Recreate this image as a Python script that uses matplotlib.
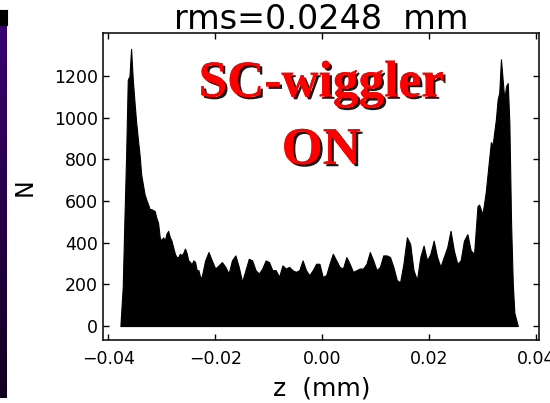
import numpy as np
import matplotlib
matplotlib.use('Agg')
import matplotlib.pyplot as plt
import matplotlib.patheffects as pe

# %%
# Longitudinal bunch profile (z in mm, N counts)
z = [-0.03774, -0.03730, -0.03698, -0.03668, -0.03636, -0.03604, -0.03574,
     -0.03542, -0.03509, -0.03479, -0.03447, -0.03415, -0.03385, -0.03353,
     -0.03321, -0.03291, -0.03258, -0.03226, -0.03196, -0.03132, -0.03102,
     -0.03070, -0.03038, -0.03008, -0.02975, -0.02943, -0.02913, -0.02881,
     -0.02849, -0.02819, -0.02787, -0.02755, -0.02725, -0.02692, -0.02660,
     -0.02630, -0.02598, -0.02566, -0.02536, -0.02504, -0.02472, -0.02442,
     -0.02409, -0.02377, -0.02347, -0.02315, -0.02283, -0.02253, -0.02189,
     -0.02126, -0.02064, -0.02000, -0.01938, -0.01875, -0.01811, -0.01749,
     -0.01687, -0.01623, -0.01560, -0.01498, -0.01434, -0.01372, -0.01309,
     -0.01245, -0.01183, -0.01121, -0.01057, -0.00994, -0.00932, -0.00868,
     -0.00806, -0.00743, -0.00679, -0.00617, -0.00555, -0.00491, -0.00428,
     -0.00366, -0.00302, -0.00240, -0.00177, -0.00113, -0.00051, 0.00011,
     0.00075, 0.00138, 0.00200, 0.00264, 0.00326, 0.00389, 0.00453, 0.00515,
     0.00577, 0.00642, 0.00704, 0.00766, 0.00830, 0.00892, 0.00955, 0.01019,
     0.01081, 0.01143, 0.01208, 0.01270, 0.01332, 0.01396, 0.01458, 0.01521,
     0.01585, 0.01647, 0.01709, 0.01774, 0.01836, 0.01898, 0.01962, 0.02025,
     0.02087, 0.02151, 0.02213, 0.02275, 0.02340, 0.02402, 0.02464, 0.02528,
     0.02591, 0.02653, 0.02717, 0.02779, 0.02842, 0.02906, 0.02936, 0.03000,
     0.03062, 0.03125, 0.03157, 0.03189, 0.03219, 0.03251, 0.03283, 0.03313,
     0.03345, 0.03377, 0.03408, 0.03440, 0.03472, 0.03502, 0.03534, 0.03566,
     0.03596, 0.03660]

counts = [0, 189, 520, 804, 1182, 1200, 1330,
          1182, 1072, 977, 898, 821, 727, 679,
          632, 608, 585, 561, 561, 552, 520,
          497, 426, 410, 426, 410, 443, 457,
          426, 410, 378, 347, 331, 331, 347,
          340, 351, 372, 351, 315, 308, 296,
          315, 308, 268, 268, 236, 236, 315,
          355, 315, 276, 291, 307, 284, 252,
          315, 339, 284, 213, 268, 323, 315,
          268, 252, 276, 315, 307, 268, 268,
          236, 291, 276, 284, 268, 260, 268,
          315, 268, 244, 268, 299, 299, 236,
          244, 299, 347, 315, 284, 276, 331, 299,
          260, 268, 276, 276, 299, 355, 315, 268,
          284, 339, 339, 331, 284, 221, 210, 299,
          426, 394, 268, 221, 331, 386, 315, 347,
          410, 331, 284, 331, 378, 457, 363, 299,
          315, 410, 441, 363, 347, 575, 583, 536,
          646, 804, 883, 867, 930, 993, 1087, 1119,
          1280, 1182, 1087, 1151, 1166, 977, 500, 205,
          64, 0]

x_ticks = [-0.04, -0.02, 0.00, 0.02, 0.04]
x_tick_labels = ['\u22120.04', '\u22120.02', '0.00', '0.02', '0.04']
y_ticks = [0, 200, 400, 600, 800, 1000, 1200]

# %%
fig = plt.figure(figsize=(5.5, 4.03), dpi=100)

# leftover purple strip on the left edge of the slide
strip = fig.add_axes([0, 0.012, 7 / 550, 0.926])
grad = np.linspace(0, 1, 256).reshape(-1, 1)
purple = matplotlib.colors.LinearSegmentedColormap.from_list('strip', ['#380070', '#12001f'])
strip.imshow(grad, aspect='auto', cmap=purple)
strip.axis('off')
top_bar = fig.add_axes([0, 1 - 25 / 403, 7 / 550, 15 / 403])
top_bar.set_facecolor('black')
top_bar.set_xticks([])
top_bar.set_yticks([])

ax = fig.add_axes([0.1878, 0.1563, 0.7927, 0.7606])
ax.fill_between(z, 0, counts, color='black', linewidth=0.8)

ax.set_xlim(-0.04094, 0.04062)
ax.set_ylim(-67, 1404)
ax.set_xticks(x_ticks)
ax.set_xticklabels(x_tick_labels)
ax.set_yticks(y_ticks)
ax.tick_params(direction='in', length=4, width=1, top=True, right=True,
               labelsize=12.5, colors='black')
ax.tick_params(axis='x', pad=7)
ax.tick_params(axis='y', pad=4)
for s in ax.spines.values():
    s.set_linewidth(1.1)

ax.set_xlabel('z  (mm)', fontsize=18, labelpad=6)
ax.set_ylabel('N', fontsize=17, labelpad=12)
ax.set_title('rms=0.0248  mm', fontsize=24, pad=3)

shadow = [pe.withSimplePatchShadow(offset=(1.8, -1.8), shadow_rgbFace='#1a1a1a', alpha=1.0),
          pe.Normal()]
ax.text(0.5, 0.795, 'SC-wiggler', transform=ax.transAxes, ha='center', va='baseline',
        fontsize=37, fontweight='bold', family='Liberation Serif', color='#ff0000',
        path_effects=shadow)
ax.text(0.5, 0.575, 'ON', transform=ax.transAxes, ha='center', va='baseline',
        fontsize=38, fontweight='bold', family='Liberation Serif', color='#ff0000',
        path_effects=shadow)

fig.savefig('out.png', dpi=100)
